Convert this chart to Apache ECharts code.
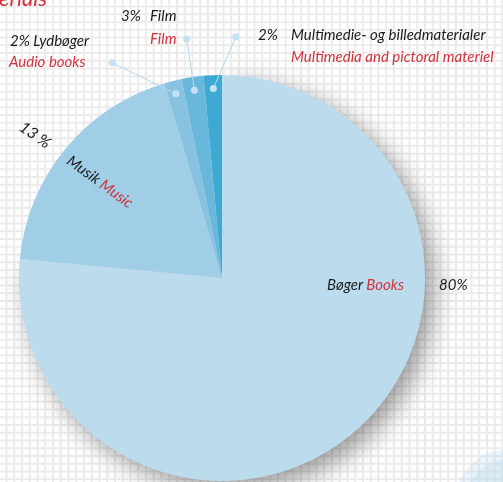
<!DOCTYPE html>
<html><head><meta charset="utf-8">
<script src="https://cdn.jsdelivr.net/npm/echarts@6/dist/echarts.min.js"></script>
<style>
html,body{margin:0;padding:0;background:#fff;}
#c{width:503px;height:482px;background-color:#fff;
background-image:linear-gradient(to right,#ebebeb 1.5px,transparent 1.5px),linear-gradient(to bottom,#ebebeb 1.5px,transparent 1.5px);
background-size:7.75px 7.75px;background-position:5.5px 5.5px;}
</style></head><body><div id="c"></div>
<script>
// ---- data ----
const categoriesDa = ['Bøger', 'Musik', 'Lydbøger', 'Film', 'Multimedie- og billedmaterialer'];
const categoriesEn = ['Books', 'Music', 'Audio books', 'Film', 'Multimedia and pictoral materiel'];
const percentLabels = ['80%', '13 %', '2%', '3%', '2%'];
// slice shares as drawn in the picture (angle of each slice)
const sliceShares = [76.5, 18.9, 1.4, 1.75, 1.45];

// ---- style / layout ----
const colors = ['#bcdcee', '#a0cee6', '#87c3e0', '#69b7da', '#3ea9d3'];
const CX = 222, CY = 278, R = 203;
const RMAX = 1.25;
const leaderSlices = [2, 3, 4];
const leaderOuterDeg = { 2: 333, 3: 351.6, 4: 363.3 };
const INNER_R = 0.935, OUTER_R = 1.19;
const FONT = 'Lato, "Open Sans", sans-serif';
const FS = 15;
const BLACK = '#1b1b1b', RED = '#d2323c';

const total = sliceShares.reduce((a, b) => a + b, 0);
let cum = 0;
const mids = sliceShares.map(v => { const m = cum + v / 2; cum += v; return m; });

const leaderSeries = leaderSlices.map(i => ({
  type: 'line', coordinateSystem: 'polar', clip: false, silent: true, z: 5,
  symbol: 'circle', symbolSize: 7, showSymbol: true, animation: false,
  itemStyle: { color: '#c4e2f2', borderWidth: 0 },
  lineStyle: { color: '#add7ec', width: 1 },
  data: [[INNER_R, mids[i]], [OUTER_R, leaderOuterDeg[i] / 360 * total]]
}));

function txt(x, y, text, fill, size, extra) {
  return Object.assign({
    type: 'text', x: x, y: y, z: 10, silent: true,
    style: { text: text, fill: fill, font: 'italic ' + size + 'px ' + FONT, align: 'left', verticalAlign: 'middle' }
  }, extra || {});
}

const graphics = [
  { type: 'circle', shape: { cx: 506, cy: 500, r: 50 }, style: { fill: 'rgba(180,214,238,0.28)' }, silent: true, z: 1 },
  { type: 'circle', shape: { cx: 506, cy: 500, r: 40 }, style: { fill: 'rgba(180,214,238,0.28)' }, silent: true, z: 1 },
  { type: 'text', x: 47, y: 10, z: 10, silent: true,
    style: { text: 'Materials', fill: RED, font: 'italic 22px ' + FONT, align: 'right', verticalAlign: 'bottom' } },
  // Multimedia
  txt(258, 35, percentLabels[4], BLACK, FS),
  txt(291, 35, categoriesDa[4], BLACK, FS),
  txt(291, 57, categoriesEn[4], RED, FS),
  // Film
  txt(121, 16, percentLabels[3], BLACK, FS),
  txt(150, 16, categoriesDa[3], BLACK, FS),
  txt(150, 39, categoriesEn[3], RED, FS),
  // Audio books
  txt(10, 41, percentLabels[2] + ' ' + categoriesDa[2], BLACK, FS),
  txt(9, 62, categoriesEn[2], RED, FS),
  // Music
  { type: 'text', x: 35, y: 135, rotation: -35 * Math.PI / 180, z: 10, silent: true,
    style: { text: percentLabels[1], fill: BLACK, font: 'italic 16px ' + FONT, align: 'center', verticalAlign: 'middle' } },
  { type: 'text', x: 100, y: 182, rotation: -36 * Math.PI / 180, z: 10, silent: true,
    style: { text: '{a|' + categoriesDa[1] + '} {b|' + categoriesEn[1] + '}', align: 'center', verticalAlign: 'middle',
      rich: { a: { fill: BLACK, font: 'italic ' + FS + 'px ' + FONT }, b: { fill: RED, font: 'italic ' + FS + 'px ' + FONT } } } },
  // Books
  { type: 'text', x: 327, y: 285, z: 10, silent: true,
    style: { text: '{a|' + categoriesDa[0] + '} {b|' + categoriesEn[0] + '}', align: 'left', verticalAlign: 'middle',
      rich: { a: { fill: BLACK, font: 'italic ' + FS + 'px ' + FONT }, b: { fill: RED, font: 'italic ' + FS + 'px ' + FONT } } } },
  txt(439, 285, percentLabels[0], BLACK, FS)
];

const chart = echarts.init(document.getElementById('c'), null, { renderer: 'canvas' });
chart.setOption({
  backgroundColor: 'transparent',
  animation: false,
  polar: { center: [CX, CY], radius: R * RMAX },
  angleAxis: { type: 'value', min: 0, max: total, startAngle: 90, clockwise: true, show: false },
  radiusAxis: { type: 'value', min: 0, max: RMAX, show: false },
  series: [{
    type: 'pie', center: [CX, CY], radius: R, startAngle: 90, clockwise: true, silent: true, z: 2,
    label: { show: false }, labelLine: { show: false },
    data: categoriesDa.map((n, i) => ({
      name: n, value: sliceShares[i],
      itemStyle: Object.assign({ color: colors[i], borderWidth: 0 },
        i === 0 ? { shadowBlur: 24, shadowColor: 'rgba(0,0,0,0.38)', shadowOffsetX: 9, shadowOffsetY: 9 } : {})
    }))
  }].concat(leaderSeries),
  graphic: graphics
});
</script></body></html>
